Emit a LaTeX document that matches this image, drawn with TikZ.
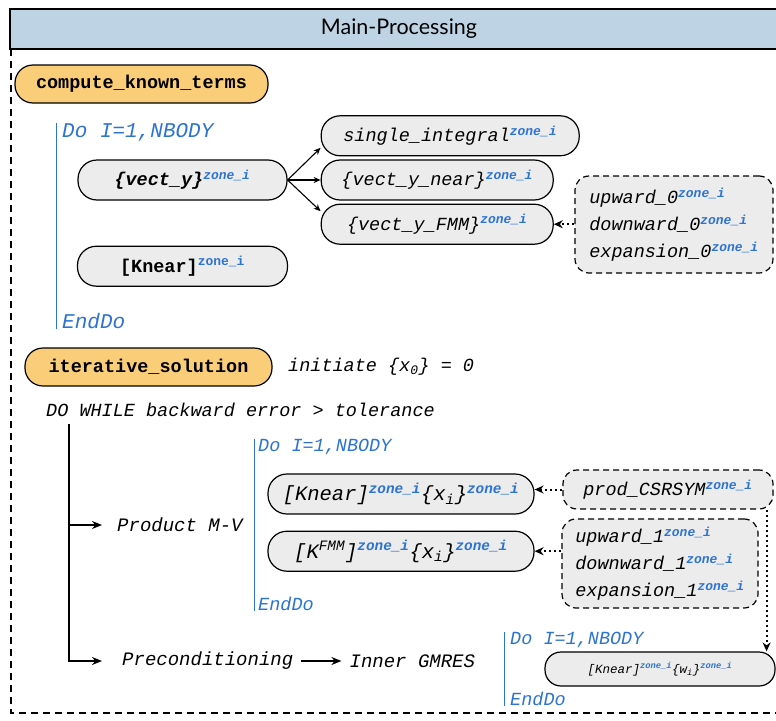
\documentclass[tikz,border=0pt]{standalone}
\usepackage{fontspec}
\setmonofont{Liberation Mono}
\newfontfamily\titlefont{Lato}
\usetikzlibrary{arrows.meta,positioning}
\definecolor{headblue}{RGB}{190,212,228}
\definecolor{callorange}{RGB}{250,206,120}
\definecolor{boxgray}{RGB}{236,236,236}
\definecolor{loopblue}{RGB}{45,115,210}
\newcommand{\codefont}{\fontsize{18.5}{27}\selectfont\ttfamily}
\newcommand{\codebig}{\fontsize{20.5}{27}\selectfont\ttfamily}
\newcommand{\codesmall}{\fontsize{12.5}{15}\selectfont\ttfamily}
\newcommand{\zi}{\textsuperscript{\bfseries\color{loopblue}zone\_i}}

\begin{document}
\begin{tikzpicture}[x=1pt, y=-1pt,
  routine/.style={rectangle, draw, line width=1.2pt, rounded corners=19pt, fill=boxgray, minimum height=40pt, inner sep=0pt, font=\codefont\itshape},
  callbox/.style={rectangle, draw, line width=1.2pt, rounded corners=18pt, fill=callorange, minimum height=38pt, inner sep=0pt, font=\codefont\bfseries},
  library/.style={rectangle, draw, line width=1.2pt, dash pattern=on 6pt off 4pt, rounded corners=14pt, fill=boxgray, inner sep=0pt, align=left, font=\codefont\itshape},
  loopkw/.style={anchor=west, inner sep=0pt, text=loopblue, font=\codefont\itshape},
  loopbar/.style={draw=loopblue, line width=1pt},
  stmt/.style={anchor=west, inner sep=0pt, font=\codefont\itshape},
  feed/.style={-{Stealth[length=7pt,width=6pt]}, line width=1.1pt},
  libfeed/.style={-{Stealth[length=9pt,width=8pt]}, line width=2pt, dash pattern=on 2.5pt off 2.5pt},
  flow/.style={-{Stealth[length=10pt,width=8pt]}, line width=2.2pt},
]
  \useasboundingbox (0,0) rectangle (776,720);

  % Header and frame
  \fill[headblue] (10,9) rectangle (776,49);
  \draw[line width=1.2pt] (776,9) -- (10,9) -- (10,49) -- (776,49);
  \node[font=\titlefont\fontsize{21.5}{24}\selectfont] (title) at (399,29) {Main-Processing};
  \draw[line width=1.2pt, dash pattern=on 7pt off 5pt] (11,49) -- (11,713) -- (776,713);

  % compute_known_terms
  \node[callbox, minimum width=253pt] (known) at (141.5,84) {compute\_known\_terms};
  \node[loopkw, font=\fontsize{21}{25}\selectfont\ttfamily\itshape] (do1) at (62,132) {Do I=1,NBODY};
  \node[loopkw, font=\fontsize{21}{25}\selectfont\ttfamily\itshape] (end1) at (62,321) {EndDo};
  \draw[loopbar] ([xshift=-6pt]do1.north west) -- ([xshift=-6pt]end1.south west);

  \node[routine, font=\codefont\bfseries\itshape, minimum width=209pt] (vecty) at (182.5,180) {\{vect\_y\}\zi};
  \node[routine, font=\codefont\bfseries, minimum width=210pt, below=45pt of vecty] (knear) {[Knear]\zi};
  \node[routine, minimum width=232pt, right=33pt of vecty] (ynear) {\{vect\_y\_near\}\zi};
  \node[routine, minimum width=232pt, below=3pt of ynear] (yfmm) {\{vect\_y\_FMM\}\zi};
  \node[routine, minimum width=258pt, above=3pt of ynear.north west, anchor=south west] (single) {single\_integral\zi};
  \node[library, minimum width=198pt, minimum height=97pt] (lib0) at (674,224.5) {upward\_0\zi\\downward\_0\zi\\expansion\_0\zi};

  \draw[feed] (vecty.east) -- ([yshift=-12pt]single.west);
  \draw[feed] (vecty.east) -- (ynear.west);
  \draw[feed] (vecty.east) -- ([yshift=13pt]yfmm.west);
  \draw[libfeed] (lib0.west |- yfmm.east) -- (yfmm.east);

  % iterative_solution
  \node[callbox, minimum width=247pt] (iter) at (148.5,367) {iterative\_solution};
  \node[stmt] (init) at (288,367) {initiate \{x\textsubscript{0}\} = 0};
  \node[stmt] (dowhile) at (46,410) {DO WHILE backward error > tolerance};
  \coordinate (wtop) at (69,424);
  \node[stmt, font=\fontsize{19}{24}\selectfont\ttfamily\itshape] (prodmv) at (117,525) {Product M-V};
  \node[stmt, font=\fontsize{19}{24}\selectfont\ttfamily\itshape] (precond) at (122,661) {Preconditioning};
  \node[stmt, font=\fontsize{19}{24}\selectfont\ttfamily\itshape, right=56pt of precond] (gmres) {Inner GMRES};

  \draw[flow] (wtop) |- ([xshift=-20pt]precond.west);
  \draw[flow] (wtop |- prodmv.west) -- ([xshift=-15pt]prodmv.west);
  \draw[flow, shorten <=8pt, shorten >=8pt] (precond.east) -- (gmres.west);

  % Product M-V loop
  \node[loopkw] (do2) at (258,447) {Do I=1,NBODY};
  \node[loopkw] (end2) at (258,604) {EndDo};
  \draw[loopbar] ([xshift=-4pt]do2.north west) -- ([xshift=-4pt]end2.south west);

  \node[routine, font=\codebig\itshape, minimum width=266pt] (kxnear) at (401,494) {[Knear]\zi\{x\textsubscript{i}\}\zi};
  \node[routine, font=\codebig\itshape, minimum width=266pt, below=16pt of kxnear] (kxfmm) {[K\textsuperscript{FMM}]\zi\{x\textsubscript{i}\}\zi};
  \node[library, minimum width=210pt, minimum height=39pt] (csr) at (668,489.5) {prod\_CSRSYM\zi};
  \node[library, minimum width=196pt, minimum height=89pt] (lib1) at (660,563.5) {upward\_1\zi\\downward\_1\zi\\expansion\_1\zi};

  \draw[libfeed] (csr.west) -- (csr.west -| kxnear.east);
  \draw[libfeed] (lib1.west |- kxfmm.east) -- (kxfmm.east);

  % Preconditioning loop
  \node[loopkw] (do3) at (510,640) {Do I=1,NBODY};
  \node[loopkw] (end3) at (510,699) {EndDo};
  \draw[loopbar] ([xshift=-6pt]do3.north west) -- ([xshift=-6pt]end3.south west);
  \node[routine, font=\codesmall\itshape, minimum width=230pt, minimum height=34pt, rounded corners=16pt] (kwnear) at (660,669) {[Knear]\zi\{w\textsubscript{i}\}\zi};

  \draw[libfeed] ([xshift=-7pt]csr.south east) -- ([xshift=-7pt]csr.south east |- kwnear.north);
\end{tikzpicture}
\end{document}
